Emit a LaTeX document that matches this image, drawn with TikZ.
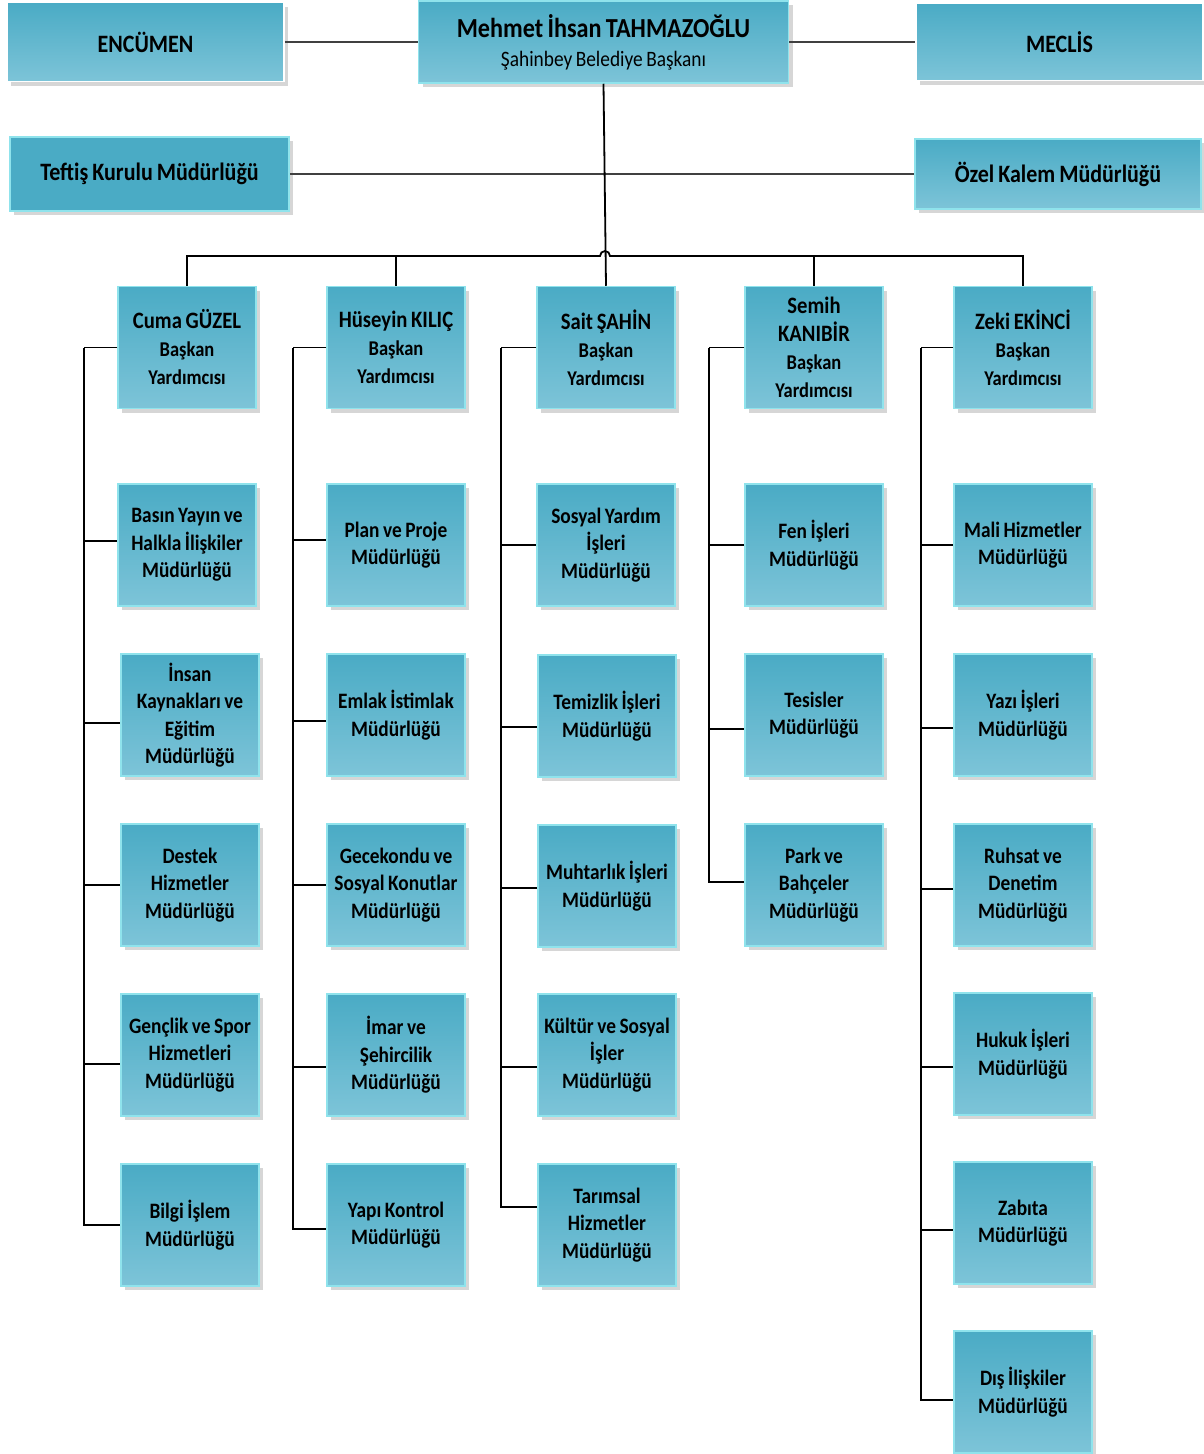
\documentclass[tikz,border=0pt]{standalone}
\usepackage{fontspec}
\setmainfont{Carlito}[FakeStretch=0.88, WordSpace=0.8]
\usetikzlibrary{shadows}
\definecolor{boxtop}{HTML}{4AABC5}
\definecolor{boxbot}{HTML}{7DC4D8}
\definecolor{boxline}{HTML}{8FE3EC}
\definecolor{shad}{HTML}{D6D6D6}
\definecolor{topline}{HTML}{404040}
\tikzset{
  basebox/.style={rectangle, line width=1.5pt, top color=boxtop, bottom color=boxbot,
    inner sep=2pt, align=flush center, text=black,
    drop shadow={shadow xshift=4pt, shadow yshift=-4pt, fill=shad, opacity=1}},
  box/.style={basebox, draw=boxline, minimum width=138pt, minimum height=122pt,
    text width=134pt, font=\fontsize{22}{27.5}\selectfont\bfseries},
  headbox/.style={box, font=\fontsize{21}{28}\selectfont\bfseries},
  topbox/.style={basebox, font=\fontsize{25}{30}\selectfont\bfseries},
  conn/.style={line width=1.8pt, black},
  topconn/.style={line width=1.6pt, topline},
}
\newcommand\hname[1]{{\fontsize{23.5}{28}\selectfont #1}}
\begin{document}
\begin{tikzpicture}[x=1pt, y=-1pt]
\useasboundingbox[fill=white] (0,0) rectangle (1203,1454);

% top level
\node[topbox, draw=white, minimum width=277pt, minimum height=79pt] (encumen) at (145.5,42) {ENCÜMEN};
\node[topbox, draw=boxline, minimum width=370pt, minimum height=82pt, font=\fontsize{22}{29}\selectfont] (mehmet) at (603.5,42)
  {{\fontsize{27.5}{29}\selectfont\bfseries Mehmet İhsan TAHMAZOĞLU}\\Şahinbey Belediye Başkanı};
\node[topbox, draw=white, minimum width=287pt, minimum height=77pt] (meclis) at (1059.5,42) {MECLİS};
\node[topbox, draw=boxline, fill=boxtop, top color=boxtop, bottom color=boxtop, minimum width=279pt, minimum height=74pt] (teftis) at (149.5,174) {Teftiş Kurulu Müdürlüğü};
\node[topbox, draw=boxline, minimum width=286pt, minimum height=70pt] (ozel) at (1058,174) {Özel Kalem Müdürlüğü};

% heads
\node[headbox] (cuma)    at (187,347.5) {\hname{Cuma GÜZEL}\\Başkan\\Yardımcısı};
\node[headbox] (huseyin) at (396,347.5) {\hname{Hüseyin KILIÇ}\\Başkan\\Yardımcısı};
\node[headbox] (sait)    at (606,347.5) {\hname{Sait ŞAHİN}\\Başkan\\Yardımcısı};
\node[headbox] (semih)   at (814,347.5) {\hname{Semih}\\\hname{KANIBİR}\\Başkan\\Yardımcısı};
\node[headbox] (zeki)    at (1023,347.5) {\hname{Zeki EKİNCİ}\\Başkan\\Yardımcısı};

% column 1
\node[box] (basin)   at (187,545)  {Basın Yayın ve\\Halkla İlişkiler\\Müdürlüğü};
\node[box] (insan)   at (190,715)  {İnsan\\Kaynakları ve\\Eğitim\\Müdürlüğü};
\node[box] (destek)  at (190,885)  {Destek\\Hizmetler\\Müdürlüğü};
\node[box] (genclik) at (190,1055) {Gençlik ve Spor\\Hizmetleri\\Müdürlüğü};
\node[box] (bilgi)   at (190,1225) {Bilgi İşlem\\Müdürlüğü};
% column 2
\node[box] (plan)      at (396,545)  {Plan ve Proje\\Müdürlüğü};
\node[box] (emlak)     at (396,715)  {Emlak İstimlak\\Müdürlüğü};
\node[box] (gecekondu) at (396,885)  {Gecekondu ve\\Sosyal Konutlar\\Müdürlüğü};
\node[box] (imar)      at (396,1055) {İmar ve\\Şehircilik\\Müdürlüğü};
\node[box] (yapi)      at (396,1225) {Yapı Kontrol\\Müdürlüğü};
% column 3
\node[box] (sosyal)    at (606,545)  {Sosyal Yardım\\İşleri\\Müdürlüğü};
\node[box] (temizlik)  at (607,716)  {Temizlik İşleri\\Müdürlüğü};
\node[box] (muhtarlik) at (607,886)  {Muhtarlık İşleri\\Müdürlüğü};
\node[box] (kultur)    at (607,1055) {Kültür ve Sosyal\\İşler\\Müdürlüğü};
\node[box] (tarimsal)  at (607,1225) {Tarımsal\\Hizmetler\\Müdürlüğü};
% column 4
\node[box] (fen)      at (814,545) {Fen İşleri\\Müdürlüğü};
\node[box] (tesisler) at (814,715) {Tesisler\\Müdürlüğü};
\node[box] (park)     at (814,885) {Park ve\\Bahçeler\\Müdürlüğü};
% column 5
\node[box] (mali)   at (1023,545)  {Mali Hizmetler\\Müdürlüğü};
\node[box] (yazi)   at (1023,715)  {Yazı İşleri\\Müdürlüğü};
\node[box] (ruhsat) at (1023,885)  {Ruhsat ve\\Denetim\\Müdürlüğü};
\node[box] (hukuk)  at (1023,1054) {Hukuk İşleri\\Müdürlüğü};
\node[box] (zabita) at (1023,1223) {Zabıta\\Müdürlüğü};
\node[box] (dis)    at (1023,1392) {Dış İlişkiler\\Müdürlüğü};

% top connectors
\draw[topconn] (encumen.east) -- (mehmet.west);
\draw[topconn] (mehmet.east) -- (meclis.west);
\draw[topconn] (teftis.east) -- (ozel.west);
\draw[conn] (mehmet.south) -- (sait.north);

% bus with hop
\coordinate (hopL) at (600,256);
\draw[conn] (cuma.north) |- (hopL) arc[start angle=180, end angle=0, radius=5pt] -| (zeki.north);
\draw[conn] (huseyin.north) -- (huseyin.north |- hopL);
\draw[conn] (semih.north) -- (semih.north |- hopL);

% spines
\coordinate (s1) at ([xshift=-33pt]cuma.west);
\coordinate (s2) at ([xshift=-33pt]huseyin.west);
\coordinate (s3) at ([xshift=-35pt]sait.west);
\coordinate (s4) at ([xshift=-35pt]semih.west);
\coordinate (s5) at ([xshift=-32pt]zeki.west);
\draw[conn] (cuma.west) -- (s1);
\draw[conn] (huseyin.west) -- (s2);
\draw[conn] (sait.west) -- (s3);
\draw[conn] (semih.west) -- (s4);
\draw[conn] (zeki.west) -- (s5);

\draw[conn] (s1) |- ([yshift=4pt]basin.west);
\draw[conn] (s1) |- ([yshift=-8pt]insan.west);
\draw[conn] (s1) |- (destek.west);
\draw[conn] (s1) |- ([yshift=-9pt]genclik.west);
\draw[conn] (s1) |- (bilgi.west);

\draw[conn] (s2) |- ([yshift=5pt]plan.west);
\draw[conn] (s2) |- ([yshift=-6pt]emlak.west);
\draw[conn] (s2) |- (gecekondu.west);
\draw[conn] (s2) |- ([yshift=-12pt]imar.west);
\draw[conn] (s2) |- ([yshift=-4pt]yapi.west);

\draw[conn] (s3) |- (sosyal.west);
\draw[conn] (s3) |- ([yshift=-11pt]temizlik.west);
\draw[conn] (s3) |- ([yshift=-2pt]muhtarlik.west);
\draw[conn] (s3) |- ([yshift=-12pt]kultur.west);
\draw[conn] (s3) |- ([yshift=18pt]tarimsal.west);

\draw[conn] (s4) |- (fen.west);
\draw[conn] (s4) |- ([yshift=-14pt]tesisler.west);
\draw[conn] (s4) |- ([yshift=3pt]park.west);

\draw[conn] (s5) |- (mali.west);
\draw[conn] (s5) |- ([yshift=-13pt]yazi.west);
\draw[conn] (s5) |- ([yshift=-4pt]ruhsat.west);
\draw[conn] (s5) |- ([yshift=-13pt]hukuk.west);
\draw[conn] (s5) |- ([yshift=-7pt]zabita.west);
\draw[conn] (s5) |- ([yshift=-8pt]dis.west);
\end{tikzpicture}
\end{document}
